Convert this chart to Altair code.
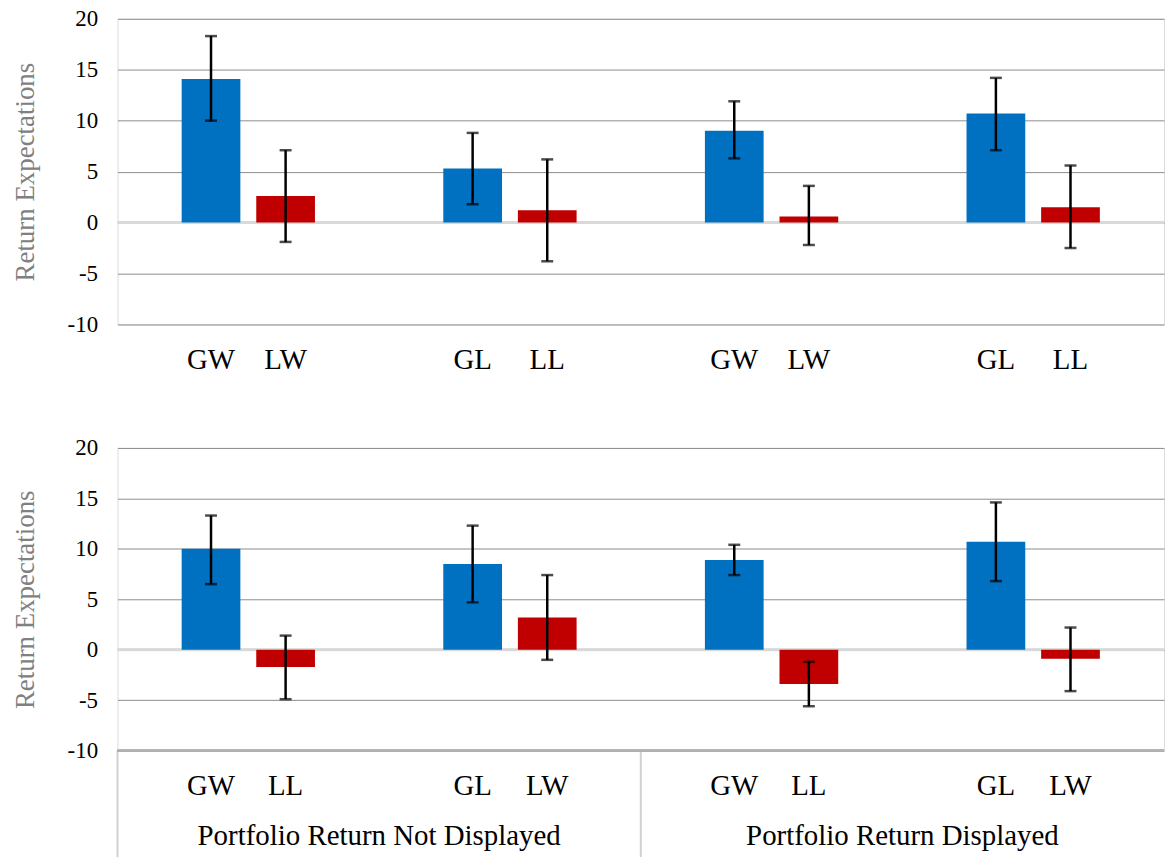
import altair as alt
import pandas as pd

# ---- data ----
groups = ["g1", "g1", "g2", "g2", "g3", "g3", "g4", "g4"]
slots = ["a", "b", "a", "b", "a", "b", "a", "b"]

top_labels = ["GW", "LW", "GL", "LL", "GW", "LW", "GL", "LL"]
top_means = [14.1, 2.6, 5.3, 1.2, 9.0, 0.6, 10.7, 1.5]
top_low = [10.0, -1.9, 1.8, -3.8, 6.3, -2.2, 7.1, -2.5]
top_high = [18.3, 7.1, 8.8, 6.2, 11.9, 3.6, 14.2, 5.6]

bot_labels = ["GW", "LL", "GL", "LW", "GW", "LL", "GL", "LW"]
bot_means = [10.0, -1.7, 8.5, 3.2, 8.9, -3.4, 10.7, -0.9]
bot_low = [6.5, -4.9, 4.7, -1.0, 7.4, -5.6, 6.8, -4.1]
bot_high = [13.3, 1.4, 12.3, 7.4, 10.4, -1.2, 14.6, 2.2]

super_labels = ["Portfolio Return Not Displayed", "Portfolio Return Displayed"]
super_center_group = ["g1", "g3"]   # label centred on right edge of this group
super_start_group = ["g1", "g3"]    # separator at left edge of this group

y_ticks = [-10, -5, 0, 5, 10, 15, 20]

FONT = "'Liberation Serif', 'Times New Roman', Times, serif"
BLUE = "#0070C0"
RED = "#C00000"
W = 1051


def panel(labels, means, low, high, height, bottom=False):
    df = pd.DataFrame({"group": groups, "slot": slots, "label": labels,
                       "mean": means, "low": low, "high": high})
    xenc = alt.X("group:N", axis=None,
                 scale=alt.Scale(paddingInner=0, paddingOuter=0))
    xoff = alt.XOffset("slot:N",
                       scale=alt.Scale(paddingInner=0.213, paddingOuter=0.86))
    yscale = alt.Scale(domain=[-10, 20], nice=False)
    yaxis = alt.Axis(values=y_ticks, grid=True, gridColor="#8c8c8c",
                     gridWidth=1, ticks=False, domain=False,
                     labelExpr="replace(datum.label, '\u2212', '-')",
                     labelFont=FONT, labelFontSize=23, labelColor="black",
                     labelPadding=20, title="Return Expectations",
                     titleFont=FONT, titleFontSize=27, titleColor="#808080",
                     titleFontWeight="normal", titlePadding=28)
    base = alt.Chart(df)
    bars = base.mark_bar().encode(
        x=xenc, xOffset=xoff,
        y=alt.Y("mean:Q", scale=yscale, axis=yaxis),
        y2=alt.datum(0),
        color=alt.Color("slot:N", legend=None,
                        scale=alt.Scale(domain=["a", "b"], range=[BLUE, RED])),
    )
    zero = base.mark_rule(color="#d9d9d9", strokeWidth=2).encode(
        y=alt.datum(0))
    err = base.mark_rule(color="black", strokeWidth=2.5).encode(
        x=xenc, xOffset=xoff, y="low:Q", y2="high:Q")
    cap_lo = base.mark_tick(color="black", thickness=2.5, size=12).encode(
        x=xenc, xOffset=xoff, y="low:Q")
    cap_hi = base.mark_tick(color="black", thickness=2.5, size=12).encode(
        x=xenc, xOffset=xoff, y="high:Q")
    text = base.mark_text(font=FONT, fontSize=29, color="black",
                          baseline="middle").encode(
        x=xenc, xOffset=xoff, y=alt.value(height + 36), text="label:N")
    layers = [zero, bars, err, cap_lo, cap_hi, text]
    if bottom:
        sdf = pd.DataFrame({"name": super_labels,
                            "center": super_center_group,
                            "start": super_start_group})
        sbase = alt.Chart(sdf)
        seps = sbase.mark_rule(color="#d0d0d0", strokeWidth=2).encode(
            x=alt.X("start:N", bandPosition=0, axis=None),
            y=alt.value(height), y2=alt.value(height + 110))
        stext = sbase.mark_text(font=FONT, fontSize=29, color="black",
                                baseline="middle").encode(
            x=alt.X("center:N", bandPosition=1, axis=None),
            y=alt.value(height + 86), text="name:N")
        axisline = zero.mark_rule(color="#b0b0b0", strokeWidth=2).encode(
            y=alt.datum(-10))
        layers = [seps, axisline] + layers + [stext]
    return alt.layer(*layers).properties(width=W, height=height)


top = panel(top_labels, top_means, top_low, top_high, 307)
bot = panel(bot_labels, bot_means, bot_low, bot_high, 304, bottom=True)

chart = alt.vconcat(top, bot, spacing=60).properties(
    padding={"top": 5, "left": 10, "right": 0, "bottom": 0}
).configure_view(stroke=None).configure(background="white")

chart.save("out.html", embed_options={"renderer": "svg", "actions": False})
